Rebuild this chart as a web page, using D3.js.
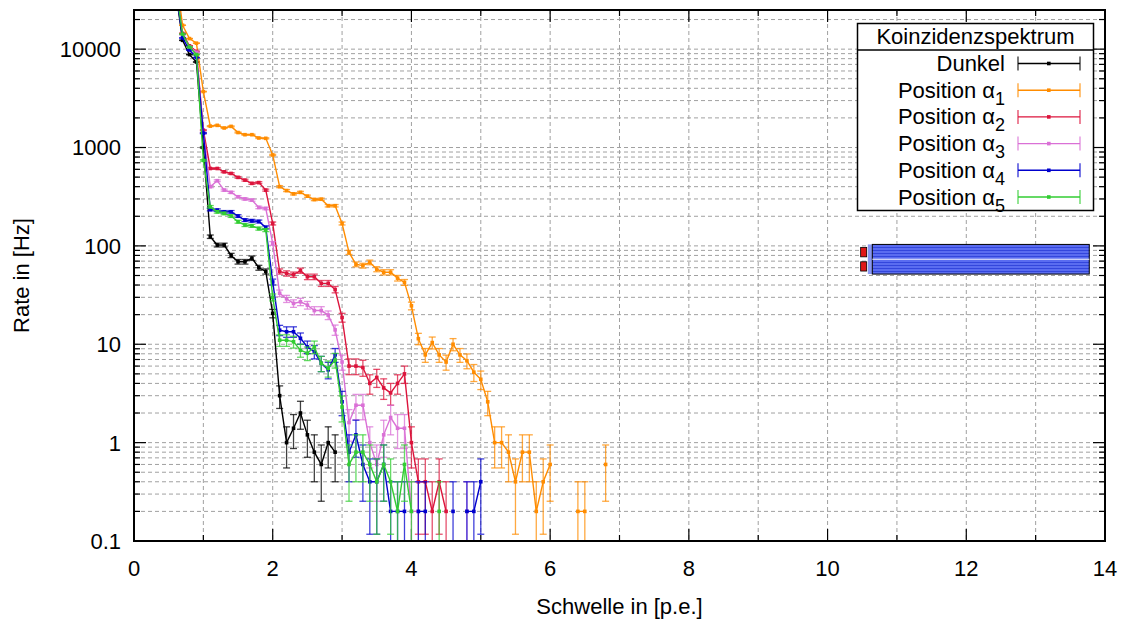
<!DOCTYPE html>
<html>
<head>
<meta charset="utf-8">
<script src="https://cdn.jsdelivr.net/npm/d3@7"></script>
<style>
  body { margin: 0; background: #fff; }
  text { font-family: "Liberation Sans", Arial, sans-serif; fill: #000; }
</style>
</head>
<body>
<div id="chart"></div>
<script>
// Schwellen in p.e.
var thresholds = [0.6, 0.7, 0.8, 0.9, 1.0, 1.1, 1.2, 1.3, 1.4, 1.5,
  1.6, 1.7, 1.8, 1.9, 2.0, 2.1, 2.2, 2.3, 2.4, 2.5,
  2.6, 2.7, 2.8, 2.9, 3.0, 3.1, 3.2, 3.3, 3.4, 3.5,
  3.6, 3.7, 3.8, 3.9, 4.0, 4.1, 4.2, 4.3, 4.4, 4.5,
  4.6, 4.7, 4.8, 4.9, 5.0, 5.1, 5.2, 5.3, 5.4, 5.5,
  5.6, 5.7, 5.8, 5.9, 6.0, 6.1, 6.2, 6.3, 6.4, 6.5,
  6.6, 6.7, 6.8];

// Raten in Hz (0 = keine Ereignisse, auf log-Skala nicht dargestellt)
var dunkel = [40000, 12300, 8800, 7400, 1000, 124, 102, 102, 80, 69,
  69, 75, 60, 55, 20.6, 3.0, 1.0, 1.4, 2.0, 1.2,
  0.8, 0.6, 1.0, 0.8, 0, 0, 0, 0, 0, 0,
  0, 0, 0, 0, 0, 0, 0, 0, 0, 0,
  0, 0, 0, 0, 0, 0, 0, 0, 0, 0,
  0, 0, 0, 0, 0, 0, 0, 0, 0, 0,
  0, 0, 0];
var alpha1 = [60000, 17500, 12800, 11500, 3700, 1650, 1680, 1580, 1640, 1420,
  1350, 1350, 1250, 1240, 840, 400, 365, 338, 350, 320,
  296, 298, 256, 256, 169, 86, 65, 63, 68, 58,
  54, 54, 47, 42.6, 24.6, 11.4, 7.8, 10.4, 7.8, 6.6,
  10, 7.8, 6.8, 5.2, 4.4, 2.6, 1.0, 1.0, 0.8, 0.4,
  0.8, 0.8, 0.2, 0.4, 0.6, 0, 0, 0, 0.2, 0.2,
  0, 0, 0.6];
var alpha2 = [45000, 14500, 10800, 9500, 1500, 612, 612, 566, 545, 497,
  466, 432, 440, 369, 169, 55, 52.5, 51, 56, 48.5,
  48.5, 41.6, 41.6, 36, 18.7, 6.0, 6.0, 5.8, 4.0, 4.6,
  3.6, 3.2, 4.0, 5.0, 1.0, 0.4, 0.4, 0.2, 0.4, 0.2,
  0, 0, 0, 0, 0, 0, 0, 0, 0, 0,
  0, 0, 0, 0, 0, 0, 0, 0, 0, 0,
  0, 0, 0];
var alpha3 = [45000, 14000, 10500, 9300, 1400, 400, 460, 369, 350, 316,
  300, 292, 246, 240, 106, 33, 29, 26, 27, 25,
  22, 22, 19.8, 14, 6.6, 1.6, 2.4, 2.4, 1.0, 0.6,
  1.2, 1.8, 1.4, 1.4, 0.2, 0.2, 0, 0, 0, 0,
  0, 0, 0.2, 0, 0, 0, 0, 0, 0, 0,
  0, 0, 0, 0, 0, 0, 0, 0, 0, 0,
  0, 0, 0];
var alpha4 = [42000, 13000, 9800, 8200, 1400, 234, 231, 222, 222, 201,
  183, 180, 177, 154, 43, 13.9, 13.4, 13.4, 11.5, 9.4,
  8.4, 6.4, 5.5, 7.8, 2.6, 0.8, 1.2, 0.6, 0.4, 0.4,
  0.6, 0.2, 0.2, 0.2, 0, 0.2, 0.2, 0, 0, 0,
  0.2, 0, 0.2, 0.2, 0.4, 0, 0, 0, 0, 0,
  0, 0, 0, 0, 0, 0, 0, 0, 0, 0,
  0, 0, 0];
var alpha5 = [45000, 14200, 10500, 8800, 740, 250, 222, 214, 201, 176,
  163, 160, 150, 145, 30, 11, 11, 10.6, 8.7, 8.1,
  9.4, 6.4, 5.7, 6.9, 2.3, 0.6, 0.8, 0.8, 0.6, 0.4,
  0.6, 0.4, 0.2, 0.6, 0.2, 0, 0, 0, 0.2, 0,
  0, 0, 0, 0, 0, 0, 0, 0, 0, 0,
  0, 0, 0, 0, 0, 0, 0, 0, 0, 0,
  0, 0, 0];

var seriesNames = ["Dunkel", "1", "2", "3", "4", "5"];
var seriesValues = [dunkel, alpha1, alpha2, alpha3, alpha4, alpha5];
var seriesColors = ["#000000", "#ff8c00", "#dc143c", "#da70d6", "#0000cd", "#32cd32"];

// Messzeit in s -> Fehler sqrt(N)/T
var measTime = 5;

var xTicks = [0, 2, 4, 6, 8, 10, 12, 14];
var yTicks = [0.1, 1, 10, 100, 1000, 10000];
var yTickLabels = ["0.1", "1", "10", "100", "1000", "10000"];

// seltsamer Block rechts im Bild (Datenkoordinaten)
var blockX = [10.645, 13.773];
var blockY = [51.7, 103.5];
var markX = [10.477, 10.564];
var markY = [[77.4, 96.6], [55.5, 68.9]];

var margin = {top: 10, right: 20, bottom: 82, left: 134},
  width = 1125 - margin.left - margin.right,
  height = 623 - margin.top - margin.bottom;

var svg = d3.select("#chart").append("svg")
  .attr("width", 1125).attr("height", 623);

var g = svg.append("g")
  .attr("transform", "translate(" + margin.left + "," + margin.top + ")");

var x = d3.scaleLinear().domain([0, 14]).range([0, width]);
var y = d3.scaleLog().domain([0.1, 25000]).range([height, 0]);

svg.append("defs").append("clipPath").attr("id", "plotclip")
  .append("rect").attr("width", width).attr("height", height);

var stripes = svg.select("defs").append("pattern")
  .attr("id", "stripes").attr("patternUnits", "userSpaceOnUse")
  .attr("width", 6).attr("height", 3);
stripes.append("rect").attr("width", 6).attr("height", 3).attr("fill", "#5a6cf0");
stripes.append("rect").attr("width", 6).attr("height", 1).attr("fill", "#3346dc");

// Gitter
var minorY = [];
[0.1, 1, 10, 100, 1000, 10000].forEach(function (dec) {
  for (var k = 1; k <= 9; k++) if (k * dec <= 25000) minorY.push(k * dec);
});
var gridX = d3.range(1, 14);

g.append("g").selectAll("line").data(minorY).enter().append("line")
  .attr("x1", 0).attr("x2", width)
  .attr("y1", d => y(d)).attr("y2", d => y(d))
  .attr("stroke", "#a0a0a0").attr("stroke-width", 1).attr("stroke-dasharray", "4,3");
g.append("g").selectAll("line").data(gridX).enter().append("line")
  .attr("x1", d => x(d)).attr("x2", d => x(d))
  .attr("y1", 0).attr("y2", height)
  .attr("stroke", "#a0a0a0").attr("stroke-width", 1).attr("stroke-dasharray", "4,3");

// Ticks (unten/oben, links/rechts)
var tk = g.append("g").attr("stroke", "#000").attr("stroke-width", 1.2);
d3.range(0, 15).forEach(function (t) {
  var len = t % 2 === 0 ? 12 : 6;
  tk.append("line").attr("x1", x(t)).attr("x2", x(t)).attr("y1", height).attr("y2", height - len);
  tk.append("line").attr("x1", x(t)).attr("x2", x(t)).attr("y1", 0).attr("y2", len);
});
minorY.forEach(function (v) {
  var len = yTicks.indexOf(v) >= 0 ? 12 : 6;
  tk.append("line").attr("x1", 0).attr("x2", len).attr("y1", y(v)).attr("y2", y(v));
  tk.append("line").attr("x1", width).attr("x2", width - len).attr("y1", y(v)).attr("y2", y(v));
});

// Block rechts
var blk = g.append("g");
blk.append("rect")
  .attr("x", x(blockX[0]) - 4.5).attr("y", y(blockY[1]))
  .attr("width", 4.5).attr("height", y(blockY[0]) - y(blockY[1]))
  .attr("fill", "#8a98f2");
blk.append("rect")
  .attr("x", x(blockX[0])).attr("y", y(blockY[1]))
  .attr("width", x(blockX[1]) - x(blockX[0])).attr("height", y(blockY[0]) - y(blockY[1]))
  .attr("fill", "url(#stripes)").attr("stroke", "#000").attr("stroke-width", 1);
blk.append("line")
  .attr("x1", x(blockX[0])).attr("x2", x(blockX[1]))
  .attr("y1", (y(blockY[0]) + y(blockY[1])) / 2).attr("y2", (y(blockY[0]) + y(blockY[1])) / 2)
  .attr("stroke", "#fff").attr("stroke-width", 1.2);
markY.forEach(function (m) {
  blk.append("rect")
    .attr("x", x(markX[0])).attr("y", y(m[1]))
    .attr("width", x(markX[1]) - x(markX[0])).attr("height", y(m[0]) - y(m[1]))
    .attr("fill", "#e01818").attr("stroke", "#000").attr("stroke-width", 0.8);
});

// Datenreihen
var plot = g.append("g").attr("clip-path", "url(#plotclip)");
var line = d3.line().defined(d => d.v > 0).x(d => x(d.t)).y(d => y(d.v));
var cap = 3.5;

seriesValues.forEach(function (vals, i) {
  var pts = thresholds.map((t, j) => ({t: t, v: vals[j]}));
  var col = seriesColors[i];
  var sg = plot.append("g");

  // Fehlerbalken
  var eb = sg.append("g").attr("stroke", col).attr("stroke-width", 1.3).attr("stroke-opacity", 0.75);
  pts.filter(d => d.v > 0).forEach(function (d) {
    var err = Math.sqrt(d.v / measTime);
    var hi = d.v + err, lo = d.v - err;
    var px = x(d.t);
    var yLo = lo > 1e-6 ? y(lo) : height + 5;
    eb.append("line").attr("x1", px).attr("x2", px).attr("y1", y(hi)).attr("y2", yLo);
    eb.append("line").attr("x1", px - cap).attr("x2", px + cap).attr("y1", y(hi)).attr("y2", y(hi));
    if (lo > 1e-6) eb.append("line").attr("x1", px - cap).attr("x2", px + cap).attr("y1", yLo).attr("y2", yLo);
  });

  sg.append("path").datum(pts)
    .attr("d", line)
    .attr("fill", "none").attr("stroke", col).attr("stroke-width", 1.4);

  sg.selectAll("rect").data(pts.filter(d => d.v > 0)).enter().append("rect")
    .attr("x", d => x(d.t) - 1.8).attr("y", d => y(d.v) - 1.8)
    .attr("width", 3.6).attr("height", 3.6).attr("fill", col);
});

// Rahmen
g.append("rect").attr("width", width).attr("height", height)
  .attr("fill", "none").attr("stroke", "#000").attr("stroke-width", 2);

// Achsenbeschriftung
g.append("g").selectAll("text").data(xTicks).enter().append("text")
  .attr("x", d => x(d)).attr("y", height + 35)
  .attr("text-anchor", "middle").style("font-size", "22px").text(d => d);
g.append("g").selectAll("text").data(yTicks).enter().append("text")
  .attr("x", -13).attr("y", d => y(d)).attr("dy", "0.36em")
  .attr("text-anchor", "end").style("font-size", "22px").text((d, i) => yTickLabels[i]);

svg.append("text")
  .attr("x", margin.left + width / 2).attr("y", 614)
  .attr("text-anchor", "middle").style("font-size", "22px")
  .text("Schwelle in [p.e.]");
svg.append("text")
  .attr("transform", "translate(29," + (margin.top + height / 2) + ") rotate(-90)")
  .attr("text-anchor", "middle").style("font-size", "22px")
  .text("Rate in [Hz]");

// Legende
var lg = svg.append("g");
lg.append("rect").attr("x", 857.5).attr("y", 23.5).attr("width", 236).attr("height", 187)
  .attr("fill", "#fff").attr("stroke", "#000").attr("stroke-width", 1.5);
lg.append("line").attr("x1", 857.5).attr("x2", 1093.5).attr("y1", 50).attr("y2", 50)
  .attr("stroke", "#000").attr("stroke-width", 1.5);
lg.append("text").attr("x", 975.5).attr("y", 44)
  .attr("text-anchor", "middle").style("font-size", "22px").text("Koinzidenzspektrum");

seriesNames.forEach(function (name, i) {
  var ry = 63.5 + i * 26.7;
  var col = seriesColors[i];
  var t = lg.append("text").attr("x", 1005).attr("y", ry + 7.5)
    .attr("text-anchor", "end").style("font-size", "22px");
  if (i === 0) {
    t.text(name);
  } else {
    t.append("tspan").text("Position α");
    t.append("tspan").attr("dy", 7).style("font-size", "18px").text(name);
  }
  lg.append("line").attr("x1", 1018).attr("x2", 1080).attr("y1", ry).attr("y2", ry)
    .attr("stroke", col).attr("stroke-width", 1.4);
  [1018, 1080].forEach(function (cx) {
    lg.append("line").attr("x1", cx).attr("x2", cx).attr("y1", ry - 7).attr("y2", ry + 7)
      .attr("stroke", col).attr("stroke-width", 1.4).attr("stroke-opacity", 0.75);
  });
  lg.append("rect").attr("x", 1047).attr("y", ry - 1.8).attr("width", 3.6).attr("height", 3.6)
    .attr("fill", col);
});
</script>
</body>
</html>
